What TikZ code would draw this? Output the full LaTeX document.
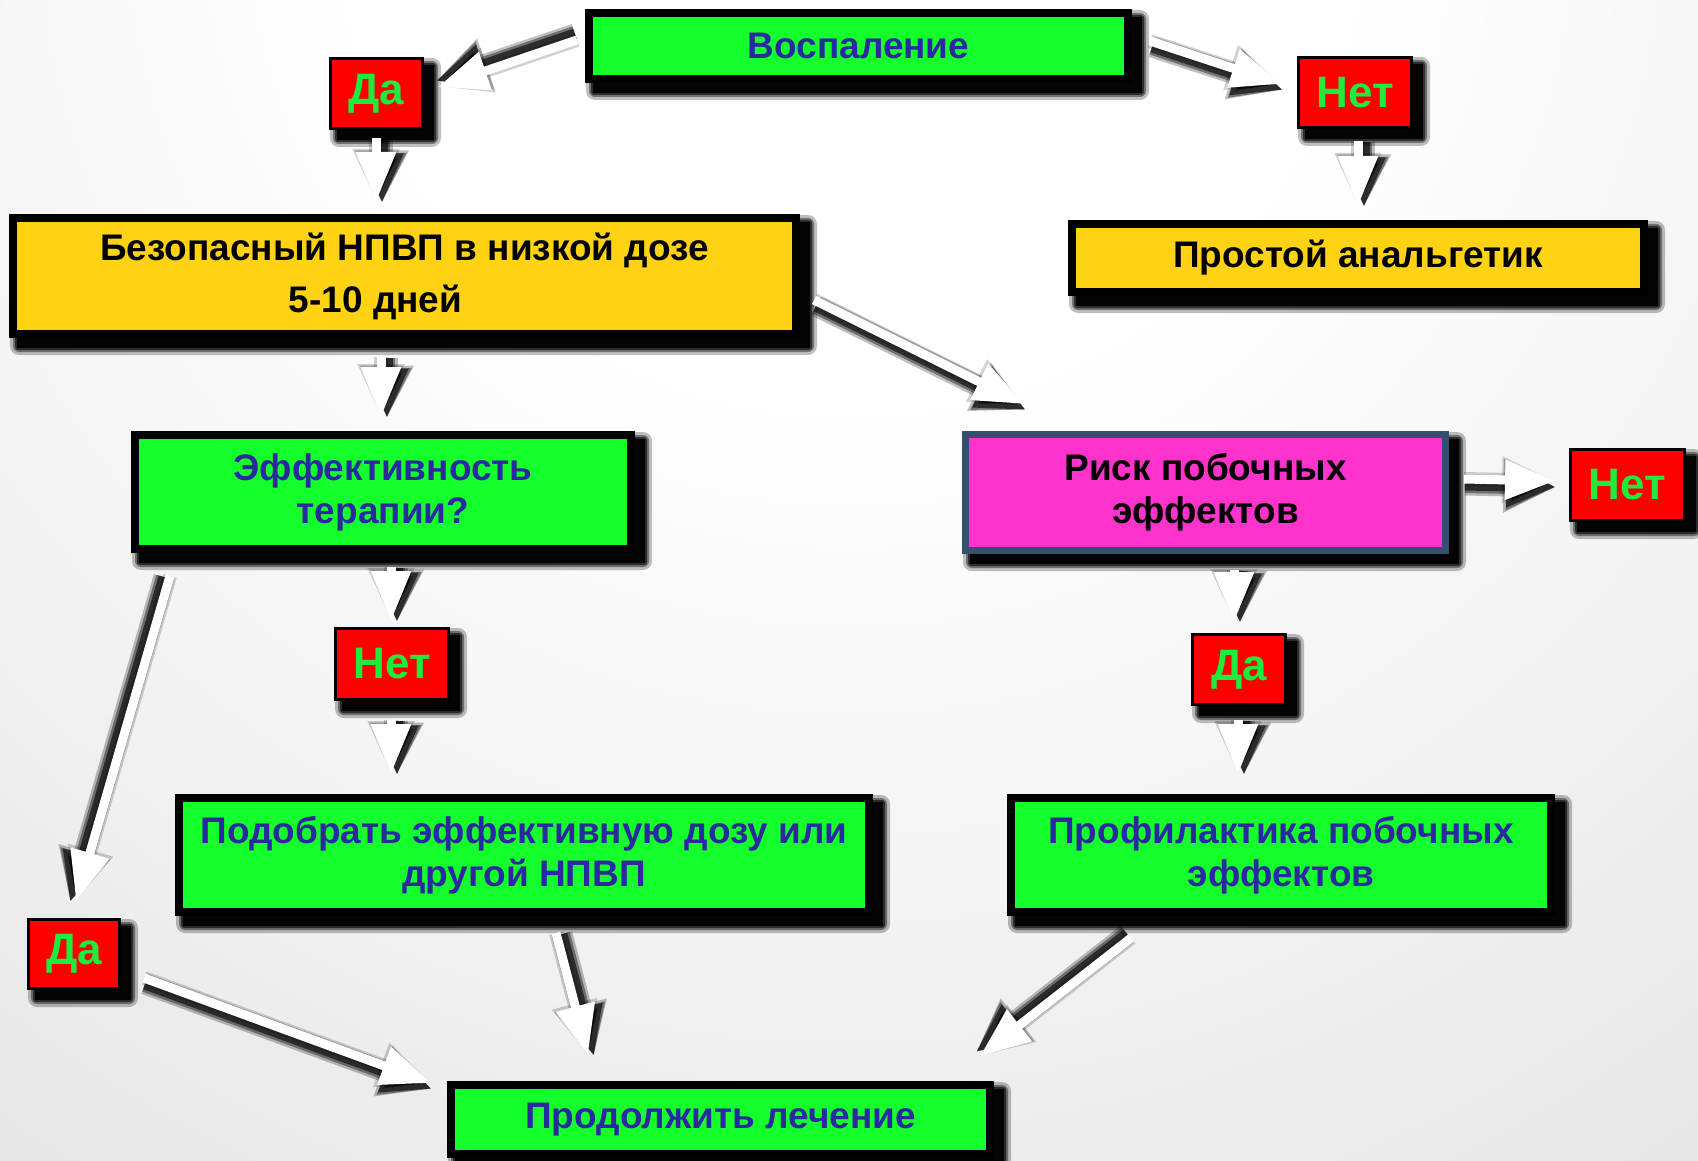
\documentclass[tikz,border=0pt]{standalone}
\usepackage{fontspec}
\setmainfont{Liberation Sans}
\usetikzlibrary{arrows.meta,calc}
\definecolor{cgreen}{HTML}{14FF2B}
\definecolor{cblue}{HTML}{2A2AA0}
\definecolor{cyellow}{HTML}{FFD314}
\definecolor{cmag}{HTML}{FF33CC}
\definecolor{cslate}{HTML}{34506E}
\definecolor{cred}{HTML}{FF0000}
\definecolor{cgtxt}{HTML}{1EEB3C}
\definecolor{bg0}{HTML}{F3F3F3}
\definecolor{bg1}{HTML}{E4E4E4}
\definecolor{bg2}{HTML}{D0D0D0}
\definecolor{bg3}{HTML}{B8B8B8}
\pgfdeclarelayer{bgl}
\pgfdeclarelayer{shad}
\pgfsetlayers{bgl,shad,main}
\pgfdeclareradialshading{bgshade}{\pgfpoint{0bp}{0bp}}{color(0bp)=(white); color(8bp)=(white); color(16bp)=(bg0); color(26bp)=(bg1); color(38bp)=(bg2); color(50bp)=(bg3)}
\newcommand\boxshadow[1]{%
  \begin{pgfonlayer}{shad}
    \fill[black,opacity=0.25,rounded corners=9pt] ([shift={(1,1)}]#1.north west) rectangle ([shift={(17,17)}]#1.south east);
    \fill[black,opacity=0.4,rounded corners=6pt] ([shift={(4,4)}]#1.north west) rectangle ([shift={(14,14)}]#1.south east);
    \fill[black,opacity=0.6,rounded corners=3pt] ([shift={(6,6)}]#1.north west) rectangle ([shift={(12,12)}]#1.south east);
    \fill[black,opacity=0.9] ([shift={(8,8)}]#1.north west) rectangle ([shift={(10,10)}]#1.south east);
  \end{pgfonlayer}}
\newcommand\blockarrow[3]{%
  \begin{pgfonlayer}{shad}
    \draw[black,opacity=0.18,line width=14pt,-{Triangle[width=29pt 1,length=46pt 0.5]}] (#1) -- (#2);
    \begin{scope}[transform canvas={shift={(#3)}}]
      \draw[black,opacity=0.25,line width=21pt,-{Triangle[width=29pt 1,length=42pt 0.5]}] (#1) -- (#2);
      \draw[black,opacity=0.4,line width=16pt,-{Triangle[width=29pt 1,length=42pt 0.5]}] (#1) -- (#2);
      \draw[black,opacity=0.6,line width=11pt,-{Triangle[width=29pt 1,length=44pt 0.5]}] (#1) -- (#2);
    \end{scope}
  \end{pgfonlayer}
  \draw[white,line width=9pt,-{Triangle[width=29pt 1,length=50pt]}] (#1) -- (#2);}
\begin{document}
\begin{tikzpicture}[x=1pt,y=-1pt,
  bigbox/.style={draw=black,line width=8pt,align=center,inner sep=0pt,font=\bfseries\fontsize{37}{43}\selectfont},
  greenbox/.style={bigbox,fill=cgreen,text=cblue},
  yellowbox/.style={bigbox,fill=cyellow,text=black,font=\bfseries\fontsize{37}{52}\selectfont},
  pinkbox/.style={bigbox,draw=cslate,line width=7pt,fill=cmag,text=black},
  answer/.style={draw=black,line width=3pt,fill=cred,text=cgtxt,inner sep=0pt,font=\bfseries\fontsize{44}{44}\selectfont}]
\useasboundingbox (0,0) rectangle (1698,1161);
\begin{pgfonlayer}{bgl}
  \clip (0,0) rectangle (1698,1161);
  \fill[bg3] (0,0) rectangle (1698,1161);
  \shade[shading=bgshade] (850,-100) ellipse [x radius=1560, y radius=1560];
\end{pgfonlayer}

% boxes
\node[greenbox,minimum width=539pt,minimum height=66pt] (vosp) at (858.5,46) {Воспаление};
\node[answer,minimum width=92pt,minimum height=70pt] (da1) at (376.5,93.5) {Да};
\node[answer,minimum width=113pt,minimum height=70pt] (net1) at (1355,92.5) {Нет};
\node[yellowbox,minimum width=783pt,minimum height=116pt] (npvp) at (404.5,276) {Безопасный НПВП в низкой дозе\\\hspace*{-58pt}5-10 дней};
\node[yellowbox,minimum width=572pt,minimum height=68pt] (analg) at (1358,258) {Простой анальгетик};
\node[greenbox,minimum width=496pt,minimum height=114pt] (eff) at (383,492) {Эффективность\\терапии?};
\node[pinkbox,minimum width=480pt,minimum height=116pt] (risk) at (1205.5,492.5) {Риск побочных\\эффектов};
\node[answer,minimum width=114pt,minimum height=71pt] (net2) at (1627.5,485) {Нет};
\node[answer,minimum width=113pt,minimum height=71pt] (net3) at (392,664) {Нет};
\node[answer,minimum width=93pt,minimum height=70pt] (da2) at (1239,669.5) {Да};
\node[greenbox,minimum width=690pt,minimum height=114pt] (podob) at (524,855) {Подобрать эффективную дозу или\\другой НПВП};
\node[greenbox,minimum width=540pt,minimum height=114pt] (profil) at (1281,855) {Профилактика побочных\\эффектов};
\node[answer,minimum width=91pt,minimum height=69pt] (da3) at (74,954) {Да};
\node[greenbox,minimum width=539pt,minimum height=69pt] (prod) at (720.5,1119.5) {Продолжить лечение};

\foreach \n in {vosp,da1,net1,npvp,analg,eff,risk,net2,net3,da2,podob,profil,da3,prod}{\boxshadow{\n}}

% arrow end points
\coordinate (a1) at (577,40);   \coordinate (a2) at (438,87);
\coordinate (b1) at (1150,41);  \coordinate (b2) at (1281,84);
\coordinate (c1) at (376,138);  \coordinate (c2) at (376,202);
\coordinate (d1) at (1358,141); \coordinate (d2) at (1358,206);
\coordinate (e1) at (381,357);  \coordinate (e2) at (381,417);
\coordinate (f1) at (814,300);  \coordinate (f2) at (1024,404);
\coordinate (g1) at (391,567);  \coordinate (g2) at (391,621);
\coordinate (h1) at (391,720);  \coordinate (h2) at (391,774);
\coordinate (i1) at (170,576);  \coordinate (i2) at (76,901);
\coordinate (j1) at (1464,479); \coordinate (j2) at (1555,481);
\coordinate (k1) at (1234,570); \coordinate (k2) at (1234,622);
\coordinate (l1) at (1238,720); \coordinate (l2) at (1238,774);
\coordinate (m1) at (556,933);  \coordinate (m2) at (588,1055);
\coordinate (n1) at (144,978);  \coordinate (n2) at (431,1083);
\coordinate (o1) at (1131,938); \coordinate (o2) at (980,1056);

\blockarrow{a1}{a2}{-2,-6}
\blockarrow{b1}{b2}{2,6}
\blockarrow{c1}{c2}{6,1}
\blockarrow{d1}{d2}{6,1}
\blockarrow{e1}{e2}{6,1}
\blockarrow{f1}{f2}{2,6}
\blockarrow{g1}{g2}{6,1}
\blockarrow{h1}{h2}{6,1}
\blockarrow{i1}{i2}{-6,1}
\blockarrow{j1}{j2}{1,6}
\blockarrow{k1}{k2}{6,1}
\blockarrow{l1}{l2}{6,1}
\blockarrow{m1}{m2}{6,1}
\blockarrow{n1}{n2}{1,6}
\blockarrow{o1}{o2}{-4,-4}
\end{tikzpicture}
\end{document}
